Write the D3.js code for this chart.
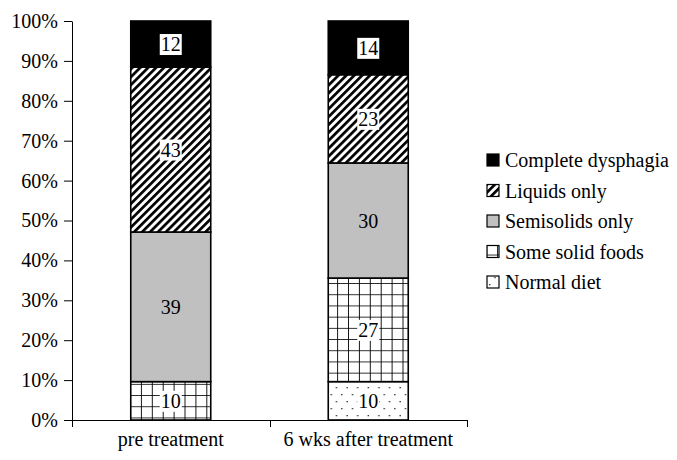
<!DOCTYPE html>
<html>
<head>
<meta charset="utf-8">
<script src="https://cdn.jsdelivr.net/npm/d3@7"></script>
<style>
  html, body { margin: 0; padding: 0; background: #fff; }
  svg text { font-family: "Liberation Serif", "Times New Roman", Times, serif; }
</style>
</head>
<body>
<svg id="chart" width="677" height="460"></svg>
<script>
// ---- data ----
const categories = ["pre treatment", "6 wks after treatment"];
const seriesNames = ["Normal diet", "Some solid foods", "Semisolids only", "Liquids only", "Complete dysphagia"];
const normalDiet = [0, 10];
const someSolidFoods = [10, 27];
const semisolidsOnly = [39, 30];
const liquidsOnly = [43, 23];
const completeDysphagia = [12, 14];
const yTickValues = [0, 0.1, 0.2, 0.3, 0.4, 0.5, 0.6, 0.7, 0.8, 0.9, 1.0];
const yTickLabels = ["0%", "10%", "20%", "30%", "40%", "50%", "60%", "70%", "80%", "90%", "100%"];

const seriesValues = [normalDiet, someSolidFoods, semisolidsOnly, liquidsOnly, completeDysphagia];
const seriesKeys = ["normal", "solid", "semi", "liquid", "complete"];

// ---- layout ----
const svg = d3.select("#chart");
const plotLeft = 72, plotRight = 467, plotTop = 21, plotBottom = 420;
const FONT = 20;
const FAMILY = "Liberation Serif";

// ---- patterns ----
const defs = svg.append("defs");
// diagonal stripes
const pl = defs.append("pattern").attr("id", "p-liquid").attr("patternUnits", "userSpaceOnUse")
  .attr("width", 5.6).attr("height", 5.6).attr("patternTransform", "rotate(45)");
pl.append("rect").attr("width", 5.6).attr("height", 5.6).attr("fill", "#fff");
pl.append("rect").attr("x", 0).attr("width", 2.7).attr("height", 5.6).attr("fill", "#000");
// grid
const pg = defs.append("pattern").attr("id", "p-solid").attr("patternUnits", "userSpaceOnUse")
  .attr("width", 10.9).attr("height", 11.2).attr("x", 131).attr("y", 4);
pg.append("rect").attr("width", 10.9).attr("height", 11.2).attr("fill", "#fff");
pg.append("rect").attr("x", 10).attr("y", 0).attr("width", 1.7).attr("height", 11.2).attr("fill", "#000");
pg.append("rect").attr("x", 0).attr("y", 10.4).attr("width", 10.9).attr("height", 1).attr("fill", "#000");
// dots
const pd = defs.append("pattern").attr("id", "p-normal").attr("patternUnits", "userSpaceOnUse")
  .attr("width", 10.6).attr("height", 14);
pd.append("rect").attr("width", 10.6).attr("height", 14).attr("fill", "#fff");
pd.append("rect").attr("x", 2).attr("y", 2).attr("width", 1.3).attr("height", 1.3).attr("fill", "#222");
pd.append("rect").attr("x", 7.3).attr("y", 9).attr("width", 1.3).attr("height", 1.3).attr("fill", "#222");

const fills = {
  normal: "url(#p-normal)",
  solid: "url(#p-solid)",
  semi: "#c0c0c0",
  liquid: "url(#p-liquid)",
  complete: "#000"
};

// ---- scales ----
const x = d3.scaleBand().domain(categories).range([plotLeft, plotRight]).paddingInner(0.595).paddingOuter(0.2975);
const y = d3.scaleLinear().domain([0, 1]).range([plotBottom, plotTop]);

// ---- stacked data (normalized to 100%) ----
const table = categories.map((c, i) => {
  const row = { category: c };
  seriesKeys.forEach((k, j) => row[k] = seriesValues[j][i]);
  return row;
});
const stack = d3.stack().keys(seriesKeys).offset(d3.stackOffsetExpand);
const stacked = stack(table);

// ---- axes ----
const yAxis = d3.axisLeft(y).tickValues(yTickValues).tickFormat((d, i) => yTickLabels[i]).tickSize(8).tickSizeOuter(0);
const gy = svg.append("g").attr("transform", `translate(${plotLeft},0)`).call(yAxis);
gy.attr("font-family", FAMILY).attr("font-size", FONT);
gy.selectAll("text").attr("fill", "#000").attr("dx", "-0.15em");
gy.selectAll("line").attr("stroke", "#000");
gy.select(".domain").attr("stroke", "#000");

// x axis: ticks at category boundaries
const xBoundaries = [plotLeft, (plotLeft + plotRight) / 2, plotRight];
const gx = svg.append("g").attr("font-family", FAMILY);
gx.append("line").attr("x1", plotLeft).attr("x2", plotRight).attr("y1", plotBottom + 0.5).attr("y2", plotBottom + 0.5).attr("stroke", "#000");
gx.selectAll("line.tick").data(xBoundaries).enter().append("line").attr("class", "tick")
  .attr("x1", d => Math.round(d) + 0.5).attr("x2", d => Math.round(d) + 0.5)
  .attr("y1", plotBottom).attr("y2", plotBottom + 7).attr("stroke", "#000");
gx.selectAll("text").data(categories).enter().append("text")
  .attr("x", d => x(d) + x.bandwidth() / 2).attr("y", plotBottom + 26)
  .attr("text-anchor", "middle").attr("font-family", FAMILY).attr("font-size", FONT).attr("fill", "#000").text(d => d);

// ---- bars ----
const layers = svg.append("g").selectAll("g").data(stacked).enter().append("g");
layers.selectAll("rect").data(d => d.map(v => ({ key: d.key, v, cat: v.data.category }))).enter()
  .filter(d => d.v[1] - d.v[0] > 0)
  .append("rect")
  .attr("x", d => x(d.cat))
  .attr("y", d => y(d.v[1]))
  .attr("width", x.bandwidth())
  .attr("height", d => y(d.v[0]) - y(d.v[1]))
  .attr("fill", d => fills[d.key])
  .attr("stroke", "#000").attr("stroke-width", 1.6);

// ---- value labels ----
const labelG = svg.append("g");
stacked.forEach(layer => {
  layer.forEach((v, i) => {
    const val = v.data[layer.key];
    if (!val) return;
    const cx = x(v.data.category) + x.bandwidth() / 2;
    const cy = (y(v[0]) + y(v[1])) / 2;
    const t = labelG.append("text").attr("x", cx).attr("y", cy).attr("dy", "0.35em")
      .attr("text-anchor", "middle").attr("font-family", FAMILY).attr("font-size", FONT).attr("fill", "#000").text(val);
    if (layer.key !== "semi") {
      const bb = t.node().getBBox();
      labelG.insert("rect", "text").attr("x", bb.x - 1).attr("y", bb.y + 1)
        .attr("width", bb.width + 2).attr("height", bb.height - 1).attr("fill", "#fff");
    }
  });
});

// ---- legend ----
const legendOrder = seriesKeys.slice().reverse();
const legendNames = seriesNames.slice().reverse();
const lg = svg.append("g").attr("transform", "translate(487,160)");
legendOrder.forEach((k, i) => {
  const g = lg.append("g").attr("transform", `translate(0,${i * 30.5})`);
  g.append("rect").attr("x", 0).attr("y", -6).attr("width", 12).attr("height", 12)
    .attr("fill", fills[k]).attr("stroke", "#000").attr("stroke-width", 1.2);
  g.append("text").attr("x", 18).attr("y", 0).attr("dy", "0.35em").attr("font-family", FAMILY)
    .attr("font-size", FONT).attr("fill", "#000").text(legendNames[i]);
});
</script>
</body>
</html>
